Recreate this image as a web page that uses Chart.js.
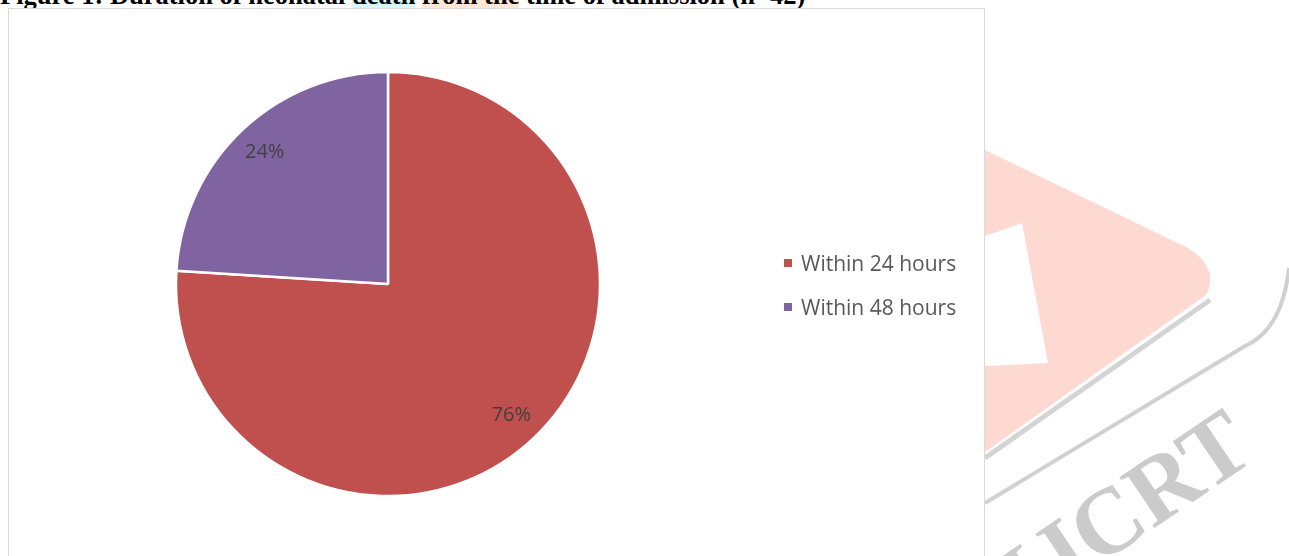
<!DOCTYPE html>
<html>
<head>
<meta charset="utf-8">
<script src="https://cdn.jsdelivr.net/npm/chart.js@4"></script>
<style>
  html, body { margin:0; padding:0; background:#fff; }
  body { width:1289px; height:556px; position:relative; overflow:hidden; font-family:"Open Sans", sans-serif; }
  #title { position:absolute; left:0; top:-20px; font:bold 26.5px "Liberation Serif", serif; color:#000; white-space:nowrap; }
  #title .hl1 { background:#d6f6fa; }
  #title .hl2 { background:#fde6d6; }
  #frame { position:absolute; left:8px; top:8px; width:975px; height:560px; border:1.5px solid #d9d9d9; background:#fff; }
  #wm { position:absolute; left:0; top:0; }
  #chartBox { position:absolute; left:0; top:0; width:1289px; height:556px; }
  #legend { position:absolute; left:784px; top:249px; font-size:21px; color:#595959; }
  #legend div { height:44px; display:flex; align-items:flex-start; }
  #legend span.sw { width:8px; height:8px; display:inline-block; margin:10px 9px 0 0; }
</style>
</head>
<body>
<svg id="wm" width="1289" height="556">
  <path d="M1289 268 Q1282 330 1245 346 L985 503" stroke="#d0d0d0" stroke-width="4" fill="none"/>
  <path d="M1210 300 L985 458" stroke="#d4d4d4" stroke-width="5" fill="none"/>
  <path d="M985 150 L1188 248 Q1220 268 1206 295 L985 452 Z" fill="#fdd9d2"/>
  <path d="M985 236 L1022 223 L1048 363 L985 366 Z" fill="#ffffff"/>
  <text x="1258" y="458" text-anchor="end" transform="rotate(-34 1258 458)" font-family="Liberation Serif" font-weight="bold" font-size="94" fill="#cbcbcb">IJCRT</text>
</svg>
<div id="title">Figure 1: Duration of neonatal <span class="hl1">death</span> <span class="hl2">from the</span> time of admission (n=42)</div>
<div id="frame"></div>
<div id="chartBox"><canvas id="myChart"></canvas></div>
<div id="legend"></div>
<script>
const categories = ['Within 24 hours', 'Within 48 hours'];
const percentValues = [76, 24];
const sliceColors = ['#C0504D', '#8064A2'];

// percent labels inside slices
const pieLabels = {
  id: 'pieLabels',
  afterDatasetsDraw(chart) {
    const ctx = chart.ctx;
    const meta = chart.getDatasetMeta(0);
    ctx.save();
    ctx.font = '20px "Open Sans"';
    ctx.fillStyle = '#404040';
    ctx.textAlign = 'center';
    ctx.textBaseline = 'middle';
    meta.data.forEach((arc, i) => {
      const mid = (arc.startAngle + arc.endAngle) / 2;
      const r = arc.outerRadius * 0.85;
      ctx.fillText(percentValues[i] + '%', arc.x + Math.cos(mid) * r, arc.y + Math.sin(mid) * r);
    });
    ctx.restore();
  }
};

const ctx = document.getElementById('myChart').getContext('2d');
new Chart(ctx, {
  type: 'pie',
  data: { labels: categories, datasets: [{
    data: percentValues,
    backgroundColor: sliceColors,
    borderColor: '#ffffff',
    borderWidth: 2.5
  }]},
  options: {
    responsive: true,
    maintainAspectRatio: false,
    animation: false,
    radius: 212,
    layout: { padding: { left: 0, right: 513, top: 12, bottom: 0 } },
    plugins: { legend: { display: false }, tooltip: { enabled: false } }
  },
  plugins: [pieLabels]
});

// legend
const legend = document.getElementById('legend');
categories.forEach((c, i) => {
  const row = document.createElement('div');
  row.innerHTML = `<span class="sw" style="background:${sliceColors[i]}"></span><span>${c}</span>`;
  legend.appendChild(row);
});
</script>
</body>
</html>
